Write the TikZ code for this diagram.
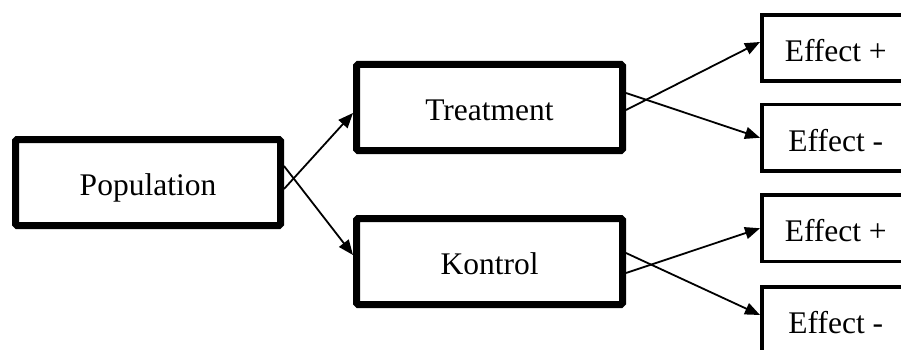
\documentclass[tikz,border=0pt]{standalone}
\usepackage{fontspec}
\setmainfont{Liberation Serif}
\usetikzlibrary{arrows.meta,calc}
\begin{document}
\begin{tikzpicture}[x=1pt,y=-1pt,
  bigbox/.style={draw=black,line width=7pt,rounded corners=1.5pt,minimum width=266pt,minimum height=86pt,inner sep=0pt,text height=26pt,text depth=0pt,font=\fontsize{31.5}{36}\selectfont},
  effbox/.style={draw=black,line width=3.5pt,minimum width=148pt,minimum height=66pt,inner sep=0pt,text height=27pt,text depth=0pt,font=\fontsize{31.5}{36}\selectfont},
  conn/.style={draw=black,line width=1.8pt,-{Triangle[length=15pt,width=12pt]}}]
\useasboundingbox (0,0) rectangle (901,350);
\clip (0,0) rectangle (901,350);
\node[bigbox,minimum width=265pt] (pop) at (148,182.5) {Population};
\node[bigbox] (trt) at (489.5,107.5) {Treatment};
\node[bigbox] (kon) at (489.5,261.5) {Kontrol};
\node[effbox] (ep1) at (835.75,48) {Effect +};
\node[effbox,minimum height=66.5pt] (em1) at (835.75,137.75) {Effect -};
\node[effbox,minimum height=66.5pt] (ep2) at (835.75,228.25) {Effect +};
\node[effbox] (em2) at (835.75,320) {Effect -};
\draw[conn] ($(pop.east)+(0,6.5)$) -- ($(trt.west)+(0,5.5)$);
\draw[conn] ($(pop.east)+(0,-16.5)$) -- ($(kon.west)+(0,-6.5)$);
\draw[conn] ($(trt.east)+(0,2.5)$) -- ($(ep1.west)+(0,-6)$);
\draw[conn] ($(trt.east)+(0,-14.5)$) -- (em1.west);
\draw[conn] ($(kon.east)+(0,11.5)$) -- (ep2.west);
\draw[conn] ($(kon.east)+(0,-8.5)$) -- ($(em2.west)+(0,-5)$);
\end{tikzpicture}
\end{document}
